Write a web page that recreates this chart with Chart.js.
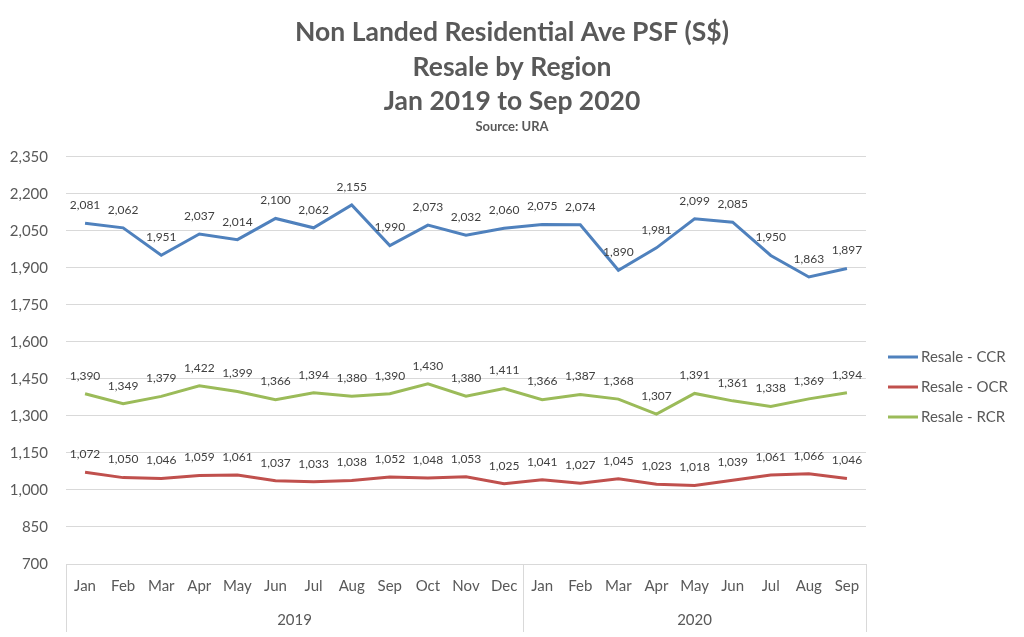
<!DOCTYPE html>
<html>
<head>
<meta charset="utf-8">
<script src="https://cdn.jsdelivr.net/npm/chart.js@4"></script>
<style>
  html, body { margin: 0; padding: 0; background: #fff; }
  #wrap { width: 1024px; height: 637px; }
</style>
</head>
<body>
<div id="wrap"><canvas id="psfChart" width="1024" height="637"></canvas></div>
<script>
'use strict';

const months = ['Jan', 'Feb', 'Mar', 'Apr', 'May', 'Jun', 'Jul', 'Aug', 'Sep', 'Oct', 'Nov', 'Dec',
                'Jan', 'Feb', 'Mar', 'Apr', 'May', 'Jun', 'Jul', 'Aug', 'Sep'];
const years = ['2019', '2020'];
const yearSpans = [12, 9];

const ccr = [2081, 2062, 1951, 2037, 2014, 2100, 2062, 2155, 1990, 2073, 2032, 2060,
             2075, 2074, 1890, 1981, 2099, 2085, 1950, 1863, 1897];
const ocr = [1072, 1050, 1046, 1059, 1061, 1037, 1033, 1038, 1052, 1048, 1053, 1025,
             1041, 1027, 1045, 1023, 1018, 1039, 1061, 1066, 1046];
const rcr = [1390, 1349, 1379, 1422, 1399, 1366, 1394, 1380, 1390, 1430, 1380, 1411,
             1366, 1387, 1368, 1307, 1391, 1361, 1338, 1369, 1394];

const FONT = 'Lato, "Noto Sans", sans-serif';
const TEXT = '#595959';
const GRID = '#D9D9D9';

// value labels above each point
const pointLabels = {
  id: 'pointLabels',
  afterDatasetsDraw(chart) {
    const ctx = chart.ctx;
    ctx.save();
    ctx.font = '12px ' + FONT;
    ctx.fillStyle = '#404040';
    ctx.textAlign = 'center';
    ctx.textBaseline = 'middle';
    chart.data.datasets.forEach((ds, i) => {
      chart.getDatasetMeta(i).data.forEach((pt, j) => {
        ctx.fillText(ds.data[j].toLocaleString('en-US'), pt.x, pt.y - 18);
      });
    });
    ctx.restore();
  }
};

// year row + separators under the month labels
const yearAxis = {
  id: 'yearAxis',
  afterDraw(chart) {
    const ctx = chart.ctx;
    const x = chart.scales.x;
    const area = chart.chartArea;
    const step = x.getPixelForValue(1) - x.getPixelForValue(0);
    ctx.save();
    ctx.strokeStyle = GRID;
    ctx.lineWidth = 1;
    ctx.font = '15px ' + FONT;
    ctx.fillStyle = TEXT;
    ctx.textAlign = 'center';
    ctx.textBaseline = 'middle';
    let start = 0;
    const edges = [0];
    yearSpans.forEach((n, k) => {
      const x0 = x.getPixelForValue(start) - step / 2;
      const x1 = x.getPixelForValue(start + n - 1) + step / 2;
      ctx.fillText(years[k], (x0 + x1) / 2, area.bottom + 56);
      start += n;
      edges.push(start);
    });
    edges.forEach(e => {
      const px = Math.round(x.getPixelForValue(e) - step / 2) + 0.5;
      ctx.beginPath();
      ctx.moveTo(px, area.bottom);
      ctx.lineTo(px, area.bottom + 68);
      ctx.stroke();
    });
    ctx.restore();
  }
};

// legend on the right
const sideLegend = {
  id: 'sideLegend',
  afterDraw(chart) {
    const ctx = chart.ctx;
    ctx.save();
    ctx.font = '15px ' + FONT;
    ctx.textBaseline = 'middle';
    ctx.textAlign = 'left';
    chart.data.datasets.forEach((ds, i) => {
      const y = 357 + i * 30;
      ctx.strokeStyle = ds.borderColor;
      ctx.lineWidth = 3;
      ctx.beginPath();
      ctx.moveTo(888, y);
      ctx.lineTo(918, y);
      ctx.stroke();
      ctx.fillStyle = TEXT;
      ctx.fillText(ds.label, 921, y);
    });
    ctx.restore();
  }
};

function makeSeries(label, data, color) {
  return {
    label: label,
    data: data,
    borderColor: color,
    backgroundColor: color,
    borderWidth: 3,
    pointRadius: 0,
    tension: 0,
    fill: false
  };
}

new Chart(document.getElementById('psfChart'), {
  type: 'line',
  data: {
    labels: months,
    datasets: [
      makeSeries('Resale - CCR', ccr, '#4F81BD'),
      makeSeries('Resale - OCR', ocr, '#C0504D'),
      makeSeries('Resale - RCR', rcr, '#9BBB59')
    ]
  },
  plugins: [pointLabels, yearAxis, sideLegend],
  options: {
    responsive: false,
    animation: false,
    devicePixelRatio: 1,
    layout: { padding: { left: 0, right: 0, top: 0, bottom: 29 } },
    scales: {
      x: {
        type: 'category',
        offset: true,
        grid: { display: false, drawTicks: false },
        border: { display: false },
        ticks: {
          color: TEXT,
          font: { family: FONT, size: 15 },
          padding: 13,
          autoSkip: false,
          maxRotation: 0
        }
      },
      y: {
        min: 700,
        max: 2350,
        afterFit(scale) { scale.width = 66; },
        grid: { color: GRID, drawTicks: false },
        border: { display: false },
        ticks: {
          stepSize: 150,
          color: TEXT,
          font: { family: FONT, size: 15 },
          padding: 18,
          callback: v => v.toLocaleString('en-US')
        }
      },
      // empty right-hand axis that only reserves room for the legend
      side: {
        position: 'right',
        min: 700,
        max: 2350,
        afterFit(scale) { scale.width = 158; },
        grid: { display: false, drawTicks: false },
        border: { display: false },
        ticks: { display: false }
      }
    },
    plugins: {
      legend: { display: false },
      tooltip: { enabled: false },
      title: {
        display: true,
        text: ['Non Landed Residential Ave PSF (S$)', 'Resale by Region', 'Jan 2019 to Sep 2020'],
        color: TEXT,
        font: { family: FONT, size: 26.5, weight: 'bold', lineHeight: 1.31 },
        padding: { top: 15, bottom: 0 }
      },
      subtitle: {
        display: true,
        text: 'Source: URA',
        color: TEXT,
        font: { family: FONT, size: 13, weight: 'bold', lineHeight: 1.2 },
        padding: { top: 0, bottom: 22 }
      }
    }
  }
});
</script>
</body>
</html>
